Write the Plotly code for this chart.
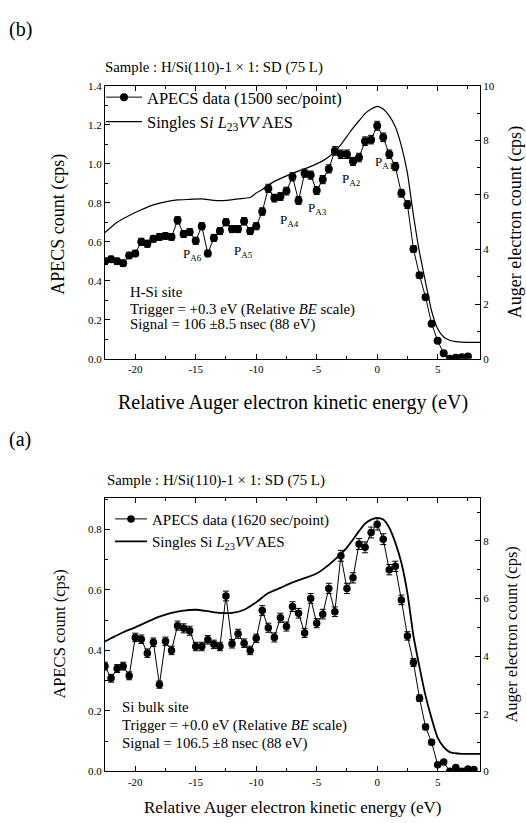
import plotly.graph_objects as go

FONT = "Liberation Serif"
W, H = 526, 823

# ---------------- panel (b): H-Si site ----------------
x_top = [-22.5, -22.0, -21.5, -21.0, -20.5, -20.0, -19.5, -19.0, -18.5, -18.0,
         -17.5, -17.0, -16.5, -16.0, -15.5, -15.0, -14.5, -14.0, -13.5, -13.0,
         -12.5, -12.0, -11.5, -11.0, -10.5, -10.0, -9.5, -9.0, -8.5, -8.0,
         -7.5, -7.0, -6.5, -6.0, -5.5, -5.0, -4.5, -4.0, -3.5, -3.0,
         -2.5, -2.0, -1.5, -1.0, -0.5, 0.0, 0.5, 1.0, 1.5, 2.0,
         2.5, 3.0, 3.5, 4.0, 4.5, 5.0, 5.5, 6.0, 6.5, 7.0, 7.5]
apecs_top = [0.50, 0.51, 0.50, 0.49, 0.53, 0.54, 0.60, 0.59, 0.615, 0.625,
             0.63, 0.625, 0.71, 0.64, 0.65, 0.605, 0.68, 0.54, 0.62, 0.655,
             0.70, 0.665, 0.665, 0.705, 0.655, 0.68, 0.755, 0.874, 0.824, 0.832,
             0.86, 0.933, 0.812, 0.952, 0.942, 0.863, 0.919, 0.974, 1.066, 1.049,
             1.049, 1.012, 1.032, 1.116, 1.124, 1.195, 1.136, 1.049, 0.986, 0.849,
             0.791, 0.563, 0.428, 0.316, 0.18, 0.092, 0.028, 0.0, 0.005, 0.008, 0.012]
err_top = [0.016, 0.016, 0.016, 0.016, 0.016, 0.016, 0.018, 0.018, 0.017, 0.017,
           0.017, 0.017, 0.019, 0.018, 0.018, 0.018, 0.018, 0.017, 0.018, 0.018,
           0.018, 0.018, 0.018, 0.019, 0.018, 0.018, 0.019, 0.021, 0.02, 0.02,
           0.02, 0.021, 0.02, 0.021, 0.021, 0.02, 0.021, 0.021, 0.022, 0.022,
           0.022, 0.021, 0.022, 0.022, 0.022, 0.023, 0.022, 0.022, 0.021, 0.02,
           0.02, 0.017, 0.015, 0.013, 0.01, 0.008, 0.005, 0.003, 0.003, 0.003, 0.003]
sx_top = [-22.5, -21.5, -20.5, -19.5, -18.5, -17.5, -16.5, -15.5, -14.5, -13.5,
          -12.5, -11.5, -10.5, -10.0, -9.5, -9.0, -8.5, -8.0, -7.0, -6.0,
          -5.0, -4.5, -4.0, -3.5, -3.0, -2.5, -2.0, -1.5, -1.0, -0.5,
          0.0, 0.5, 1.0, 1.5, 2.0, 2.5, 3.0, 3.5, 4.0, 4.5,
          5.0, 5.5, 6.0, 6.5, 7.0, 8.5]
singles_top = [4.62, 5.0, 5.25, 5.46, 5.64, 5.75, 5.82, 5.84, 5.86, 5.8,
               5.8, 5.86, 5.91, 6.07, 6.2, 6.36, 6.5, 6.6, 6.8, 6.96,
               7.14, 7.25, 7.4, 7.6, 7.85, 8.15, 8.45, 8.72, 8.98, 9.15,
               9.25, 9.15, 8.9, 8.5, 7.8, 6.8, 5.25, 3.9, 2.8, 1.75,
               1.1, 0.8, 0.68, 0.63, 0.61, 0.6]

peak_labels = ["P<sub>A1</sub>", "P<sub>A2</sub>", "P<sub>A3</sub>",
               "P<sub>A4</sub>", "P<sub>A5</sub>", "P<sub>A6</sub>"]
peak_x = [-0.35, -3.05, -5.87, -8.2, -12.0, -16.2]
peak_y = [1.005, 0.92, 0.77, 0.71, 0.55, 0.535]

# ---------------- panel (a): Si bulk site ----------------
x_bot = [-22.5, -22.0, -21.5, -21.0, -20.5, -20.0, -19.5, -19.0, -18.5, -18.0,
         -17.5, -17.0, -16.5, -16.0, -15.5, -15.0, -14.5, -14.0, -13.5, -13.0,
         -12.5, -12.0, -11.5, -11.0, -10.5, -10.0, -9.5, -9.0, -8.5, -8.0,
         -7.5, -7.0, -6.5, -6.0, -5.5, -5.0, -4.5, -4.0, -3.5, -3.0,
         -2.5, -2.0, -1.5, -1.0, -0.5, 0.0, 0.5, 1.0, 1.5, 2.0,
         2.5, 3.0, 3.5, 4.0, 4.5, 5.0, 5.5, 6.0, 6.5, 7.0, 7.5, 8.0]
apecs_bot = [0.348, 0.308, 0.34, 0.348, 0.316, 0.443, 0.437, 0.391, 0.427, 0.287,
             0.43, 0.40, 0.482, 0.473, 0.465, 0.413, 0.413, 0.435, 0.42, 0.413,
             0.58, 0.422, 0.455, 0.424, 0.40, 0.44, 0.532, 0.475, 0.443, 0.508,
             0.479, 0.545, 0.523, 0.458, 0.572, 0.49, 0.52, 0.605, 0.528, 0.713,
             0.605, 0.64, 0.752, 0.741, 0.79, 0.817, 0.768, 0.667, 0.678, 0.567,
             0.448, 0.36, 0.242, 0.147, 0.096, 0.022, 0.031, 0.0, 0.013, 0.0, 0.008, 0.006]
err_bot = [0.013, 0.013, 0.013, 0.013, 0.013, 0.014, 0.014, 0.014, 0.014, 0.012,
           0.014, 0.014, 0.015, 0.015, 0.015, 0.014, 0.014, 0.014, 0.014, 0.014,
           0.016, 0.014, 0.015, 0.014, 0.014, 0.014, 0.016, 0.015, 0.015, 0.015,
           0.015, 0.016, 0.016, 0.015, 0.016, 0.015, 0.016, 0.017, 0.016, 0.018,
           0.017, 0.017, 0.018, 0.018, 0.018, 0.019, 0.018, 0.017, 0.017, 0.016,
           0.014, 0.013, 0.011, 0.009, 0.008, 0.004, 0.004, 0.003, 0.003, 0.003, 0.003, 0.003]
sx_bot = [-22.5, -22.0, -21.0, -20.0, -19.0, -18.0, -17.0, -16.0, -15.0, -14.0,
          -13.0, -12.0, -11.0, -10.0, -9.0, -8.0, -7.0, -6.0, -5.0, -4.0,
          -3.0, -2.5, -2.0, -1.5, -1.0, -0.5, 0.0, 0.5, 1.0, 1.5,
          2.0, 2.5, 3.0, 3.5, 4.0, 4.5, 5.0, 5.5, 6.0, 7.0, 8.5]
singles_bot = [4.51, 4.62, 4.83, 5.0, 5.19, 5.37, 5.5, 5.58, 5.61, 5.56,
               5.5, 5.5, 5.61, 5.87, 6.19, 6.37, 6.56, 6.71, 6.87, 7.17,
               7.55, 7.77, 8.05, 8.34, 8.6, 8.74, 8.8, 8.74, 8.46, 7.94,
               7.24, 6.19, 4.7, 3.62, 2.62, 1.84, 1.17, 0.84, 0.67, 0.61, 0.61]

x_ticks = [-20, -15, -10, -5, 0, 5]
x_ticktext = ["-20", "-15", "-10", "-5", "0", "5"]
x_minor = [-22.5, -17.5, -12.5, -7.5, -2.5, 2.5, 7.5]

# ---------------- geometry (pixels) ----------------
PX_L, PX_R = 105, 480
TOP_T, TOP_B = 81, 358
BOT_T, BOT_B = 499, 776.7


def px(x):
    return x / W


def py(y):
    return 1 - y / H


fig = go.Figure()

fig.add_trace(go.Scatter(
    x=x_top, y=apecs_top, mode="lines+markers",
    error_y=dict(type="data", array=err_top, color="black", thickness=1, width=3),
    line=dict(color="black", width=1), marker=dict(color="black", size=8),
    name="APECS data (1500 sec/point)", xaxis="x", yaxis="y", legend="legend"))
fig.add_trace(go.Scatter(
    x=sx_top, y=singles_top, mode="lines",
    line=dict(color="black", width=1.2, shape="spline", smoothing=0.6),
    name="Singles S<i>i</i> <i>L</i><sub>23</sub><i>VV</i> AES",
    xaxis="x", yaxis="y2", legend="legend"))

fig.add_trace(go.Scatter(
    x=x_bot, y=apecs_bot, mode="lines+markers",
    error_y=dict(type="data", array=err_bot, color="black", thickness=1, width=3),
    line=dict(color="black", width=1), marker=dict(color="black", size=7.5),
    name="APECS data (1620 sec/point)", xaxis="x2", yaxis="y3", legend="legend2"))
fig.add_trace(go.Scatter(
    x=sx_bot, y=singles_bot, mode="lines",
    line=dict(color="black", width=1.8, shape="spline", smoothing=0.6),
    name="Singles Si <i>L</i><sub>23</sub><i>VV</i> AES",
    xaxis="x2", yaxis="y4", legend="legend2"))

tickfont = dict(family=FONT, size=11, color="black")
common_x = dict(range=[-22.5, 8.5], showline=True, linecolor="black", linewidth=1.2,
                mirror="ticks", ticks="inside", ticklen=5, tickwidth=1, tickcolor="black",
                tickvals=x_ticks, ticktext=x_ticktext, tickfont=tickfont,
                minor=dict(ticks="inside", ticklen=3, tickwidth=1, tickcolor="black",
                           tickvals=x_minor),
                showgrid=False, zeroline=False, domain=[px(PX_L), px(PX_R)])
common_y = dict(showline=True, linecolor="black", linewidth=1.2, ticks="inside",
                ticklen=5, tickwidth=1, tickcolor="black", tickfont=tickfont,
                showgrid=False, zeroline=False)

fig.update_layout(
    width=W, height=H, margin=dict(l=0, r=0, t=0, b=0),
    paper_bgcolor="white", plot_bgcolor="white",
    font=dict(family=FONT, color="black"),
    xaxis=dict(common_x, anchor="y"),
    yaxis=dict(common_y, domain=[py(TOP_B), py(TOP_T)], anchor="x", range=[0, 1.4],
               dtick=0.2, tickformat=".1f",
               minor=dict(ticks="inside", ticklen=3, dtick=0.1, tickcolor="black")),
    yaxis2=dict(common_y, overlaying="y", side="right", anchor="x", range=[0, 10],
                dtick=2, minor=dict(ticks="inside", ticklen=3, dtick=1, tickcolor="black")),
    xaxis2=dict(common_x, anchor="y3"),
    yaxis3=dict(common_y, domain=[py(BOT_B), py(BOT_T)], anchor="x2", range=[0, 0.905],
                dtick=0.2, tickformat=".1f",
                minor=dict(ticks="inside", ticklen=3, dtick=0.1, tickcolor="black")),
    yaxis4=dict(common_y, overlaying="y3", side="right", anchor="x2", range=[0, 9.5],
                dtick=2, minor=dict(ticks="inside", ticklen=3, dtick=1, tickcolor="black")),
    legend=dict(x=px(101), y=py(75), xanchor="left", yanchor="top",
                bgcolor="rgba(0,0,0,0)", borderwidth=0, itemwidth=36,
                font=dict(family=FONT, size=16.5, color="black"), tracegroupgap=0),
    legend2=dict(x=px(110), y=py(504), xanchor="left", yanchor="top",
                 bgcolor="rgba(0,0,0,0)", borderwidth=0, itemwidth=32,
                 font=dict(family=FONT, size=15, color="black"), tracegroupgap=0),
)

ann = []


def add_text(text, x, y, size, xanchor="left", yanchor="middle", xref="paper",
             yref="paper", angle=0):
    ann.append(dict(text=text, x=x, y=y, xref=xref, yref=yref, xanchor=xanchor,
                    yanchor=yanchor, showarrow=False, textangle=angle,
                    font=dict(family=FONT, size=size, color="black")))


# panel labels
add_text("(b)", px(7), py(24), 20)
add_text("(a)", px(7), py(440), 20)
# sample headers
add_text("Sample : H/Si(110)-1 × 1: SD (75 L)", px(103), py(62), 14.8)
add_text("Sample : H/Si(110)-1 × 1: SD (75 L)", px(105), py(482), 14.8)
# axis titles
add_text("Relative Auger electron kinetic energy (eV)", px((PX_L + PX_R) / 2), py(402),
         20, xanchor="center")
add_text("Relative Auger electron kinetic energy (eV)", px((PX_L + PX_R) / 2), py(813),
         17, xanchor="center")
add_text("APECS count (cps)", px(59), py(222), 18, xanchor="center", angle=-90)
add_text("Auger electron count (cps)", px(515), py((TOP_T + TOP_B) / 2), 18,
         xanchor="center", angle=-90)
add_text("APECS count (cps)", px(60), py((BOT_T + BOT_B) / 2), 16.5, xanchor="center",
         angle=-90)
add_text("Auger electron count (cps)", px(512), py((BOT_T + BOT_B) / 2), 16.5,
         xanchor="center", angle=-90)

# peak labels (panel b)
for t, xv, yv in zip(peak_labels, peak_x, peak_y):
    add_text(t, xv, yv, 13, xref="x", yref="y")

# site descriptions
add_text("H-Si site", -20.6, 0.344, 14.8, xref="x", yref="y")
add_text("Trigger = +0.3 eV (Relative <i>BE</i> scale)", -20.6, 0.255, 14.8,
         xref="x", yref="y")
add_text("Signal = 106 ±8.5 nsec (88 eV)", -20.6, 0.177, 14.8, xref="x", yref="y")

add_text("Si bulk site", -21.3, 0.212, 14.8, xref="x2", yref="y3")
add_text("Trigger = +0.0 eV (Relative <i>BE</i> scale)", -21.3, 0.153, 14.8,
         xref="x2", yref="y3")
add_text("Signal = 106.5 ±8 nsec (88 eV)", -21.3, 0.093, 14.8, xref="x2", yref="y3")

fig.update_layout(annotations=ann)
fig.write_html("out.html")
